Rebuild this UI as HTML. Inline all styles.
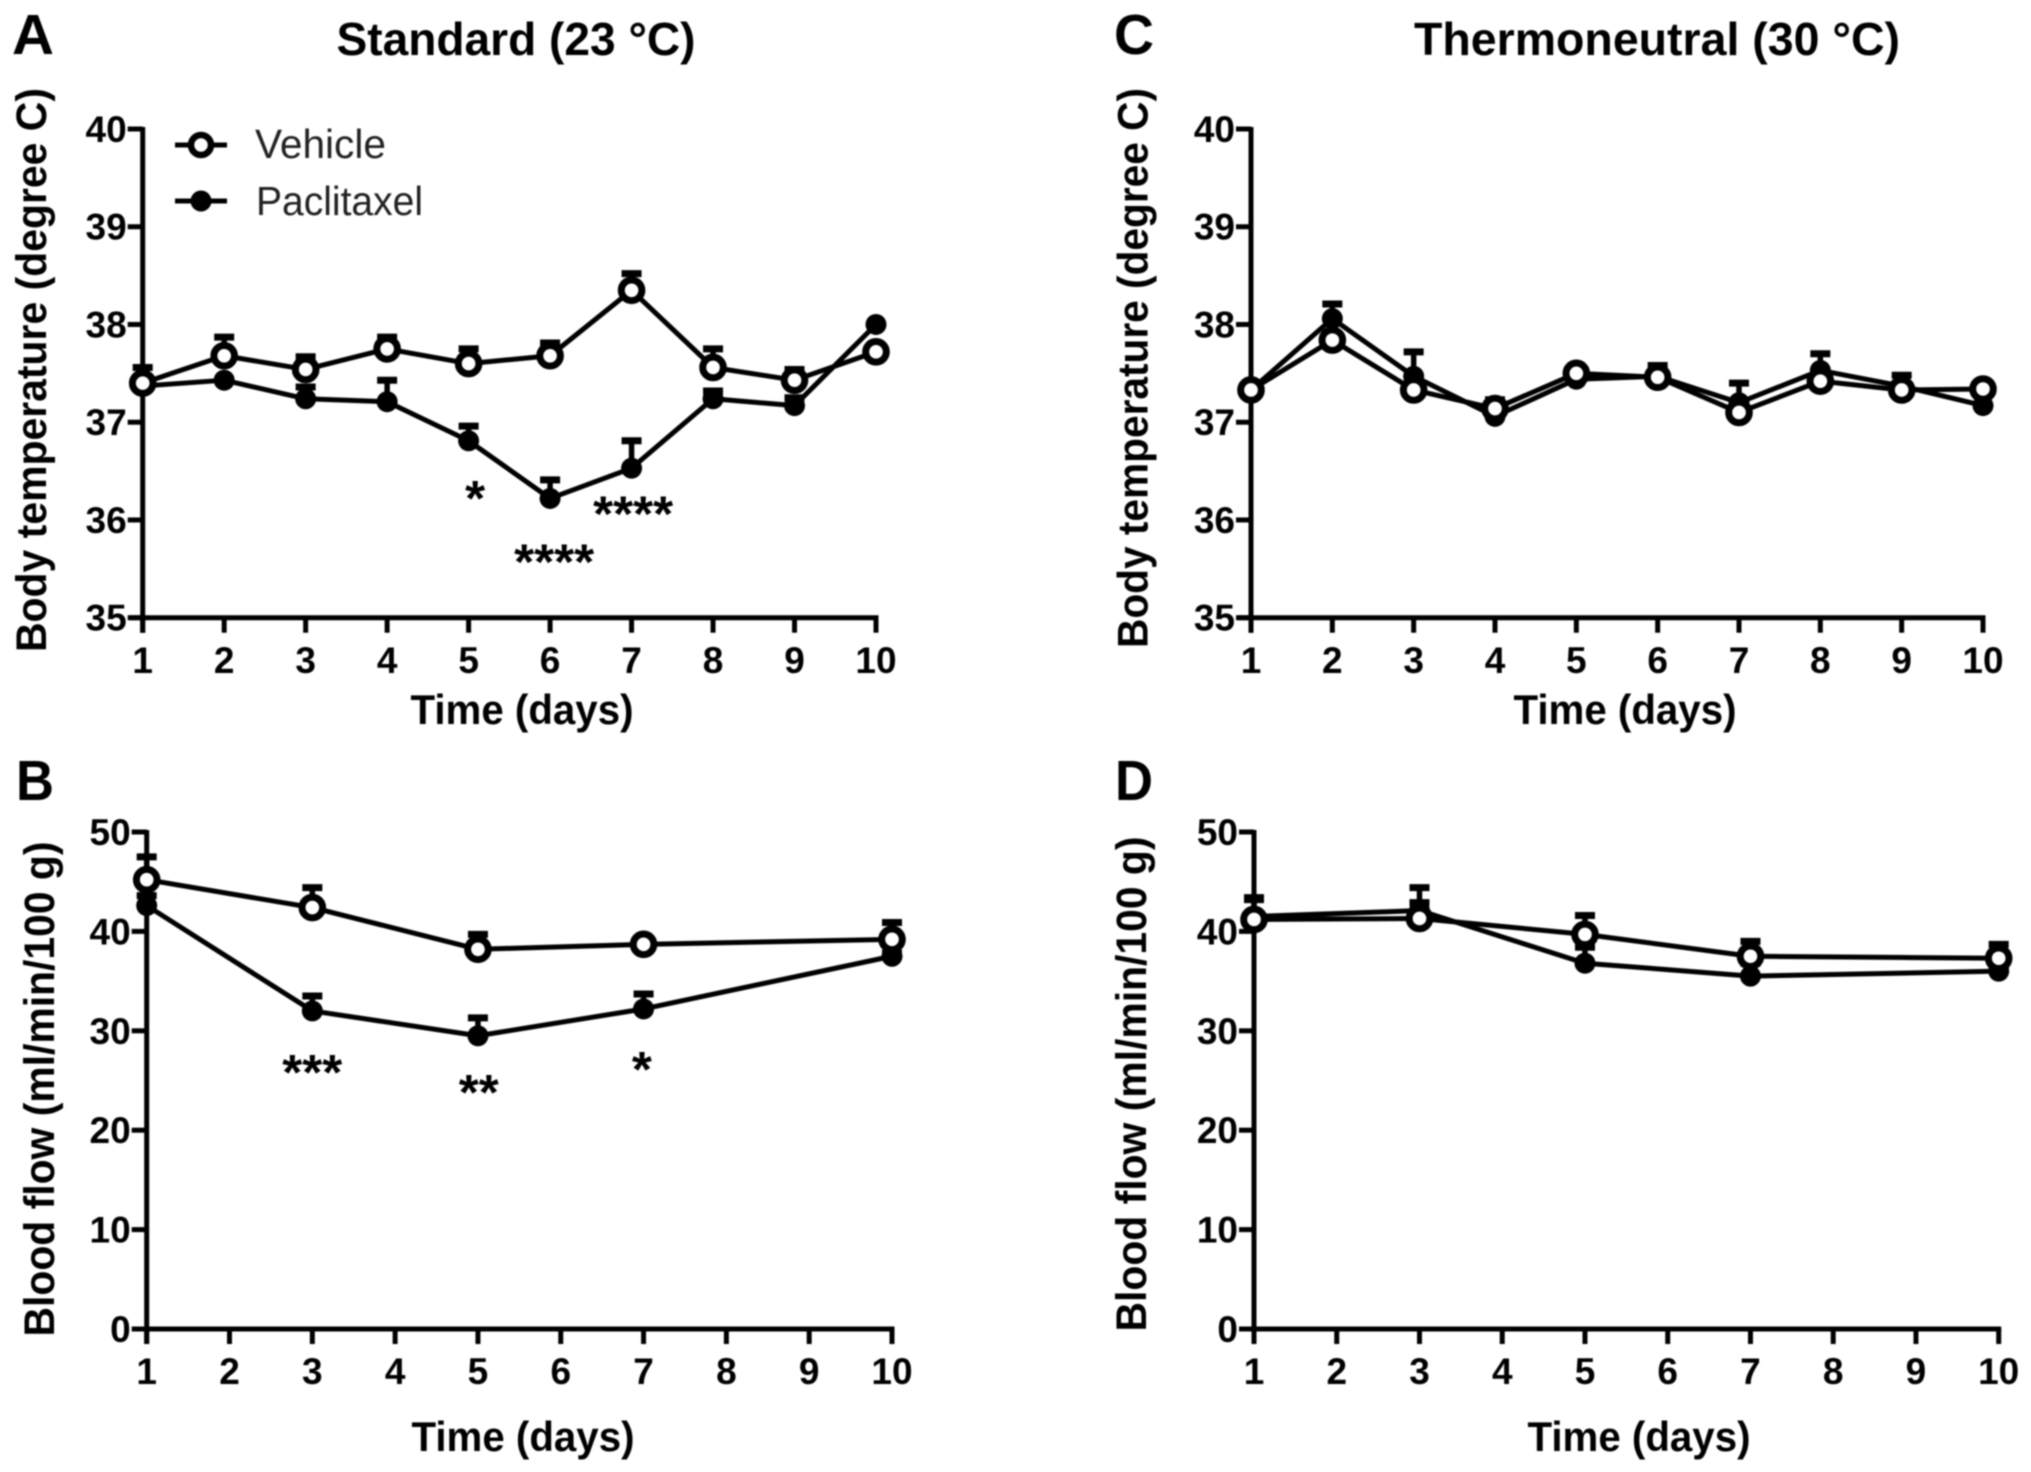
<!DOCTYPE html>
<html lang="en">
<head>
<meta charset="utf-8">
<title>Body temperature and blood flow</title>
<style>
html,body{margin:0;padding:0;background:#fff;width:2031px;height:1472px;overflow:hidden}
svg{display:block;filter:blur(0.9px)}
text{font-family:"Liberation Sans",Arial,sans-serif;fill:#000}
</style>
</head>
<body>
<svg id="chart" xmlns="http://www.w3.org/2000/svg" width="2031" height="1472" viewBox="0 0 2031 1472">
<rect width="2031" height="1472" fill="#fff"/>
<text x="12" y="54" font-size="57" font-weight="700" textLength="42" lengthAdjust="spacingAndGlyphs">A</text>
<text x="16" y="800" font-size="57" font-weight="700" textLength="38" lengthAdjust="spacingAndGlyphs">B</text>
<text x="1114" y="54" font-size="57" font-weight="700" textLength="40" lengthAdjust="spacingAndGlyphs">C</text>
<text x="1115" y="800" font-size="57" font-weight="700" textLength="38" lengthAdjust="spacingAndGlyphs">D</text>
<text x="516" y="55" font-size="46" font-weight="700" text-anchor="middle" textLength="359" lengthAdjust="spacingAndGlyphs">Standard (23 °C)</text>
<text x="1657" y="55" font-size="46" font-weight="700" text-anchor="middle" textLength="486" lengthAdjust="spacingAndGlyphs">Thermoneutral (30 °C)</text>
</svg>
<script>
var dayTicks = [1,2,3,4,5,6,7,8,9,10];
var tempTicks = [35,36,37,38,39,40];
var flowTicks = [0,10,20,30,40,50];
var tempDays = [1,2,3,4,5,6,7,8,9,10];
var flowDays = [1,3,5,7,10];

var aVehicle = [37.40,37.68,37.54,37.75,37.60,37.68,38.35,37.56,37.43,37.72];
var aVehicleErr = [0.16,0.19,0.13,0.12,0.15,0.13,0.17,0.19,0.11,0];
var aPaclitaxel = [37.37,37.43,37.24,37.21,36.81,36.22,36.53,37.24,37.17,38.00];
var aPaclitaxelErr = [0.05,0,0.12,0.22,0.15,0.19,0.28,0.08,0.08,0];

var cVehicle = [37.33,37.84,37.33,37.14,37.50,37.46,37.10,37.42,37.33,37.34];
var cVehicleErr = [0,0.05,0.05,0.05,0.03,0.05,0.05,0.05,0.05,0];
var cPaclitaxel = [37.33,38.06,37.47,37.06,37.44,37.47,37.20,37.53,37.37,37.17];
var cPaclitaxelErr = [0,0.15,0.25,0.17,0.07,0.11,0.20,0.17,0.11,0];

var bVehicle = [45.2,42.4,38.2,38.7,39.2];
var bVehicleErr = [2.3,2.0,1.5,0.6,1.7];
var bPaclitaxel = [42.6,32.0,29.5,32.2,37.5];
var bPaclitaxelErr = [1.0,1.5,1.8,1.5,0.3];

var dVehicle = [41.2,41.3,39.7,37.5,37.3];
var dVehicleErr = [2.0,1.6,1.9,1.5,1.4];
var dPaclitaxel = [41.5,42.1,36.8,35.5,36.0];
var dPaclitaxelErr = [1.9,2.3,1.6,1.3,0.4];

var aStarLabels = ["*","****","****"];
var aStarDays = [5.08,6.05,7.02];
var aStarValues = [36.28,35.63,36.12];
var bStarLabels = ["***","**","*"];
var bStarDays = [3.0,5.01,6.98];
var bStarValues = [26.4,24.4,26.7];

var svg = document.getElementById('chart');
var NS = 'http://www.w3.org/2000/svg';

function make(tag, parent, props) {
  var el = document.createElementNS(NS, tag);
  for (var k in props) { el.setAttribute(k, props[k]); }
  parent.appendChild(el);
  return el;
}

function drawSeries(group, days, values, errs, xs, ys, open, key) {
  var pts = [];
  for (var i = 0; i < days.length; i++) { pts.push(xs(days[i]) + ',' + ys(values[i])); }
  var line = make('polyline', group, {points: pts.join(' '), fill: 'none', stroke: '#000', 'stroke-width': 5, 'stroke-linejoin': 'round'});
  
  
  for (var j = 0; j < days.length; j++) {
    var cx = xs(days[j]);
    var cy = ys(values[j]);
    if (errs[j] > 0) {
      var top = ys(values[j] + errs[j]);
      var stem = make('line', group, {x1: cx, x2: cx, y1: cy, y2: top, stroke: '#000', 'stroke-width': 5.5});
      
      
      var cap = make('line', group, {x1: cx - 10, x2: cx + 10, y1: top, y2: top, stroke: '#000', 'stroke-width': 7});
      
      
    }
  }
  for (var m = 0; m < days.length; m++) {
    var dot = make('circle', group, open
      ? {cx: xs(days[m]), cy: ys(values[m]), r: 10.3, fill: '#fff', stroke: '#000', 'stroke-width': 7}
      : {cx: xs(days[m]), cy: ys(values[m]), r: 10.5, fill: '#000'});
    
    
  }
}

function drawPanel(cfg) {
  var g = make('g', svg, {});
  
  
  var yMin = cfg.yTicks[0];
  var yMax = cfg.yTicks[cfg.yTicks.length - 1];
  var xs = function (d) { return cfg.x1 + (d - 1) * (cfg.x10 - cfg.x1) / 9; };
  var ys = function (v) { return cfg.yBottom - (v - yMin) * (cfg.yBottom - cfg.yTop) / (yMax - yMin); };

  var yAxis = make('line', g, {x1: cfg.x1, x2: cfg.x1, y1: cfg.yTop - 2, y2: cfg.yBottom + 15, stroke: '#000', 'stroke-width': 5});
  
  
  var xAxis = make('line', g, {x1: cfg.x1 - 13, x2: cfg.x10 + 2.5, y1: cfg.yBottom, y2: cfg.yBottom, stroke: '#000', 'stroke-width': 5});
  
  

  cfg.yTicks.forEach(function (t) {
    var tick = make('line', g, {x1: cfg.x1 - 15, x2: cfg.x1, y1: ys(t), y2: ys(t), stroke: '#000', 'stroke-width': 5});
    
    
    var lab = make('text', g, {x: cfg.x1 - 16, y: ys(t) + 13, 'font-size': 37, 'font-weight': 700, 'text-anchor': 'end'});
    
    
    lab.textContent = t;
  });
  dayTicks.forEach(function (d) {
    var tick = make('line', g, {x1: xs(d), x2: xs(d), y1: cfg.yBottom, y2: cfg.yBottom + 15, stroke: '#000', 'stroke-width': 5});
    
    
    var lab = make('text', g, {x: xs(d), y: cfg.tickBase, 'font-size': 37, 'font-weight': 700, 'text-anchor': 'middle'});
    
    
    lab.textContent = d;
  });

  var xt = make('text', g, {x: cfg.xTitleX, y: cfg.xTitleY, 'font-size': 42, 'font-weight': 700, 'text-anchor': 'middle', textLength: 223, lengthAdjust: 'spacingAndGlyphs'});
  
  
  xt.textContent = 'Time (days)';

  var yt = make('text', g, {transform: 'translate(' + cfg.yTitleX + ',' + cfg.yTitleY + ') rotate(-90)', 'font-size': 43, 'font-weight': 700, 'text-anchor': 'middle', textLength: cfg.yTitleLen, lengthAdjust: 'spacingAndGlyphs'});
  
  
  yt.textContent = cfg.yTitle;

  drawSeries(g, cfg.days, cfg.pac, cfg.pacErr, xs, ys, false, 'paclitaxel');
  drawSeries(g, cfg.days, cfg.veh, cfg.vehErr, xs, ys, true, 'vehicle');

  if (cfg.starLabels) {
    cfg.starLabels.forEach(function (s, i) {
      var st = make('text', g, {x: xs(cfg.starDays[i]), y: ys(cfg.starValues[i]) + 23, 'font-size': 50, 'font-weight': 700, 'text-anchor': 'middle', textLength: s.length * 20, lengthAdjust: 'spacingAndGlyphs'});
      
      
      st.textContent = s;
    });
  }
}

drawPanel({id: 'a', x1: 142.7, x10: 876, yTop: 129, yBottom: 617.7, yTicks: tempTicks, days: tempDays,
  veh: aVehicle, vehErr: aVehicleErr, pac: aPaclitaxel, pacErr: aPaclitaxelErr,
  tickBase: 673, xTitleX: 522, xTitleY: 724, yTitleX: 46, yTitleY: 370, yTitleLen: 564,
  yTitle: 'Body temperature (degree C)', starLabels: aStarLabels, starDays: aStarDays, starValues: aStarValues});
drawPanel({id: 'c', x1: 1251, x10: 1983, yTop: 129, yBottom: 617.7, yTicks: tempTicks, days: tempDays,
  veh: cVehicle, vehErr: cVehicleErr, pac: cPaclitaxel, pacErr: cPaclitaxelErr,
  tickBase: 673, xTitleX: 1625, xTitleY: 724, yTitleX: 1147.5, yTitleY: 368, yTitleLen: 560,
  yTitle: 'Body temperature (degree C)'});
drawPanel({id: 'b', x1: 146.7, x10: 892, yTop: 832, yBottom: 1329, yTicks: flowTicks, days: flowDays,
  veh: bVehicle, vehErr: bVehicleErr, pac: bPaclitaxel, pacErr: bPaclitaxelErr,
  tickBase: 1384, xTitleX: 523, xTitleY: 1451, yTitleX: 54, yTitleY: 1089, yTitleLen: 495,
  yTitle: 'Blood flow (ml/min/100 g)', starLabels: bStarLabels, starDays: bStarDays, starValues: bStarValues});
drawPanel({id: 'd', x1: 1254, x10: 1998.7, yTop: 832, yBottom: 1329, yTicks: flowTicks, days: flowDays,
  veh: dVehicle, vehErr: dVehicleErr, pac: dPaclitaxel, pacErr: dPaclitaxelErr,
  tickBase: 1384, xTitleX: 1639, xTitleY: 1451, yTitleX: 1146, yTitleY: 1084, yTitleLen: 495,
  yTitle: 'Blood flow (ml/min/100 g)'});

var legend = make('g', svg, {});


var lv = make('line', legend, {x1: 175, x2: 227, y1: 145, y2: 145, stroke: '#000', 'stroke-width': 5});


var mv = make('circle', legend, {cx: 201, cy: 145, r: 10, fill: '#fff', stroke: '#000', 'stroke-width': 6.5});


var tv = make('text', legend, {x: 255, y: 158, 'font-size': 41, textLength: 131, lengthAdjust: 'spacingAndGlyphs', style: 'fill:#222'});


tv.textContent = 'Vehicle';
var lp = make('line', legend, {x1: 175, x2: 227, y1: 201, y2: 201, stroke: '#000', 'stroke-width': 5});


var mp = make('circle', legend, {cx: 201, cy: 201, r: 10.5, fill: '#000'});


var tp = make('text', legend, {x: 256, y: 215, 'font-size': 41, textLength: 167, lengthAdjust: 'spacingAndGlyphs', style: 'fill:#222'});


tp.textContent = 'Paclitaxel';
</script>
</body>
</html>
